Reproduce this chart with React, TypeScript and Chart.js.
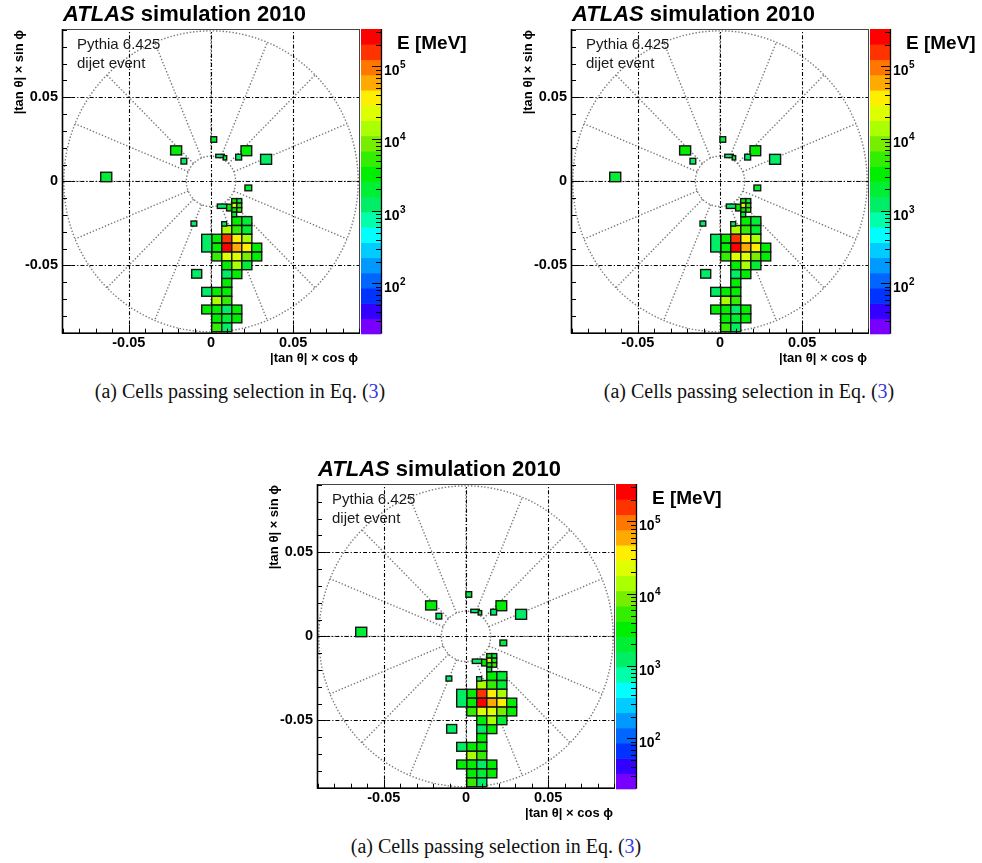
import React, { useEffect, useRef } from 'react';
import { Chart, registerables } from 'chart.js';

Chart.register(...registerables);

// ---------------- axis ranges / ticks ----------------
const X_RANGE = [-0.0906, 0.0906];
const Y_RANGE = [-0.0906, 0.0906];
const Z_RANGE = [20.2, 330000];
const N_LEVELS = 20;
const AXIS_TICKS = [-0.05, 0, 0.05];
const AXIS_MINOR_TICKS = [-0.09, -0.08, -0.07, -0.06, -0.05, -0.04, -0.03, -0.02, -0.01, 0, 0.01, 0.02, 0.03, 0.04, 0.05, 0.06, 0.07, 0.08, 0.09];
const Z_TICKS = [100, 1000, 10000, 100000];
const Z_TICK_EXPONENTS = ['2', '3', '4', '5'];
const PALETTE = [
  '#7700ff', '#3300ff', '#0033ff', '#0066ff', '#0099ff', '#00ccff', '#00ffff', '#00ffaa', '#00ee66', '#00ee33',
  '#00ee00', '#33ee00', '#77ee00', '#aaff00', '#ddff00', '#ffee00', '#ffaa00', '#ff7700', '#ff3300', '#ff0000',
];

// detector outline (dotted)
const OUTER_R = 0.0895;
const INNER_R = 0.015;
const SPOKE_ANGLES = [0, 22.5, 45, 67.5, 90, 112.5, 135, 157.5, 180, 202.5, 225, 247.5, 270, 292.5, 315, 337.5];

// ---------------- cell data ----------------
// regular calorimeter towers (grid)
const GRID_COL_CENTERS = [-0.0026, 0.0035, 0.0096, 0.0157, 0.0218, 0.0278];
const GRID_ROW_CENTERS = [-0.0236, -0.0289, -0.0341, -0.0394, -0.0447, -0.0499, -0.0552, -0.0604, -0.0657, -0.0710, -0.0762, -0.0815, -0.0868];
const GRID_W = 0.0061;
const GRID_H = 0.00526;
const TOWER_COL = [3, 4, 2, 3, 4, 1, 2, 3, 4, 1, 2, 3, 4, 5, 1, 2, 3, 4, 5, 2, 3, 4, 2, 3, 2, 0, 1, 2, 1, 2, 0, 1, 2, 3, 1, 2, 3, 1, 2];
const TOWER_ROW = [0, 0, 1, 1, 1, 2, 2, 2, 2, 3, 3, 3, 3, 3, 4, 4, 4, 4, 4, 5, 5, 5, 6, 6, 7, 8, 8, 8, 9, 9, 10, 10, 10, 10, 11, 11, 11, 12, 12];
const TOWER_E = [
  3500, 2200,
  14000, 5000, 2000,
  3300, 160000, 37000, 14000,
  3300, 260000, 60000, 37000, 3000,
  5000, 23000, 20000, 8700, 3300,
  3300, 12000, 2000,
  1200, 3000,
  3300,
  1200, 3500, 3000,
  14000, 5000,
  3000, 3300, 1300, 3000,
  3000, 2200, 3500,
  5000, 1400,
];

// individual cells (centre x, centre y, width, height, energy in MeV)
const CELL_X = [-0.0026, -0.0212, -0.0165, -0.0637, 0.0017, 0.0055, 0.0085, 0.0215, 0.0168, 0.0335, 0.0227, -0.0104, -0.0087,
  0.0141, 0.0172, 0.0141, 0.0172, 0.0141, 0.0172, 0.0141, 0.0067, 0.0110, 0.0080];
const CELL_Y = [-0.03675, 0.0184, 0.0120, 0.0026, 0.0249, 0.0151, 0.0140, 0.0182, 0.0144, 0.0131, -0.0039, -0.0251, -0.0550,
  -0.0116, -0.0116, -0.0143, -0.0143, -0.0170, -0.0170, -0.0197, -0.0148, -0.0156, -0.0253];
const CELL_W = [0.0061, 0.0067, 0.0035, 0.0067, 0.0035, 0.0052, 0.0021, 0.0065, 0.0036, 0.0067, 0.0041, 0.0035, 0.0061,
  0.0030, 0.0030, 0.0030, 0.0030, 0.0030, 0.0030, 0.0030, 0.0057, 0.0030, 0.0030];
const CELL_H = [0.0105, 0.0054, 0.0034, 0.0056, 0.0033, 0.0020, 0.0026, 0.0059, 0.0034, 0.0059, 0.0034, 0.0030, 0.0051,
  0.0027, 0.0027, 0.0027, 0.0027, 0.0027, 0.0027, 0.0027, 0.0026, 0.0040, 0.0026];
const CELL_E = [1200, 3300, 1200, 2000, 2000, 1500, 2000, 3300, 1200, 1400, 2000, 1200, 1300,
  3300, 2000, 23000, 5000, 3300, 5400, 2000, 1200, 3300, 1200];

// ---------------- texts ----------------
const TITLE_ITALIC = 'ATLAS';
const TITLE_REST = ' simulation 2010';
const Z_TITLE = 'E [MeV]';
const INFO_LINES = ['Pythia 6.425', 'dijet event'];
const X_TITLE = '|tan \u03b8| \u00d7 cos \u03d5';
const Y_TITLE = '|tan \u03b8| \u00d7 sin \u03d5';
const CAPTION_BEFORE = '(a) Cells passing selection in Eq. (';
const CAPTION_REF = '3';
const CAPTION_AFTER = ')';

const FONT = '"Liberation Sans", Arial, Helvetica, sans-serif';

const CELLS = [
  ...TOWER_COL.map((c, i) => ({ x: GRID_COL_CENTERS[c], y: GRID_ROW_CENTERS[TOWER_ROW[i]], w: GRID_W, h: GRID_H, e: TOWER_E[i] })),
  ...CELL_X.map((x, i) => ({ x, y: CELL_Y[i], w: CELL_W[i], h: CELL_H[i], e: CELL_E[i] })),
];

function levelIndex(e: number) {
  const l0 = Math.log10(Z_RANGE[0]);
  const l1 = Math.log10(Z_RANGE[1]);
  const t = (Math.log10(e) - l0) / (l1 - l0);
  return Math.max(0, Math.min(N_LEVELS - 1, Math.floor(t * N_LEVELS)));
}

function line(ctx: CanvasRenderingContext2D, x1: number, y1: number, x2: number, y2: number) {
  ctx.beginPath();
  ctx.moveTo(x1, y1);
  ctx.lineTo(x2, y2);
  ctx.stroke();
}

const atlasPlugin = {
  id: 'atlasPanel',
  beforeDraw(chart: any) {
    const { ctx, width, height } = chart;
    ctx.save();
    ctx.fillStyle = '#ffffff';
    ctx.fillRect(0, 0, width, height);
    ctx.restore();
  },
  beforeDatasetsDraw(chart: any) {
    const { ctx, chartArea: a, scales } = chart;
    const xs = scales.x;
    const ys = scales.y;
    ctx.save();
    ctx.beginPath();
    ctx.rect(a.left, a.top, a.right - a.left, a.bottom - a.top);
    ctx.clip();
    const cx = xs.getPixelForValue(0);
    const cy = ys.getPixelForValue(0);
    // dotted detector outline
    ctx.strokeStyle = '#7a7a7a';
    ctx.lineWidth = 1.4;
    ctx.setLineDash([1.4, 1.9]);
    for (const r of [OUTER_R, INNER_R]) {
      ctx.beginPath();
      ctx.ellipse(cx, cy, xs.getPixelForValue(r) - cx, cy - ys.getPixelForValue(r), 0, 0, Math.PI * 2);
      ctx.stroke();
    }
    for (const deg of SPOKE_ANGLES) {
      const t = (deg * Math.PI) / 180;
      line(ctx,
        xs.getPixelForValue(INNER_R * Math.cos(t)), ys.getPixelForValue(INNER_R * Math.sin(t)),
        xs.getPixelForValue(OUTER_R * Math.cos(t)), ys.getPixelForValue(OUTER_R * Math.sin(t)));
    }
    // dash-dot grid at major ticks
    ctx.strokeStyle = '#000000';
    ctx.lineWidth = 1.1;
    ctx.setLineDash([4, 2, 1.2, 2]);
    for (const v of AXIS_TICKS) {
      const px = Math.round(xs.getPixelForValue(v)) + 0.5;
      line(ctx, px, a.bottom, px, a.top);
      const py = Math.round(ys.getPixelForValue(v)) + 0.5;
      line(ctx, a.left, py, a.right, py);
    }
    ctx.restore();
  },
  afterDatasetsDraw(chart: any) {
    const { ctx, chartArea: a, scales } = chart;
    const xs = scales.x;
    const ys = scales.y;
    ctx.save();
    ctx.beginPath();
    ctx.rect(a.left, a.top, a.right - a.left, a.bottom - a.top);
    ctx.clip();
    const cells = chart.data.datasets[0].data;
    ctx.lineWidth = 1.4;
    ctx.strokeStyle = '#151515';
    for (const c of cells) {
      const x1 = xs.getPixelForValue(c.x - c.w / 2);
      const x2 = xs.getPixelForValue(c.x + c.w / 2);
      const y1 = ys.getPixelForValue(c.y + c.h / 2);
      const y2 = ys.getPixelForValue(c.y - c.h / 2);
      ctx.fillStyle = PALETTE[levelIndex(c.e)];
      ctx.fillRect(x1, y1, x2 - x1, y2 - y1);
      ctx.strokeRect(x1, y1, x2 - x1, y2 - y1);
    }
    ctx.restore();
  },
  afterDraw(chart: any) {
    const { ctx, chartArea: a, scales } = chart;
    const xs = scales.x;
    const ys = scales.y;
    const zs = scales.zAxis;
    ctx.save();
    // frame
    ctx.setLineDash([]);
    ctx.strokeStyle = '#444444';
    ctx.lineWidth = 1;
    ctx.strokeRect(a.left + 0.5, a.top + 0.5, a.right - a.left - 1, a.bottom - a.top - 1);
    ctx.strokeStyle = '#000000';
    ctx.lineWidth = 1.6;
    line(ctx, a.left + 0.5, a.top, a.left + 0.5, a.bottom);
    line(ctx, a.left, a.bottom - 0.5, a.right, a.bottom - 0.5);
    // inward ticks
    ctx.lineWidth = 1;
    for (const v of AXIS_MINOR_TICKS) {
      const major = AXIS_TICKS.some((m) => Math.abs(m - v) < 1e-9);
      const len = major ? 9 : 5;
      const px = Math.round(xs.getPixelForValue(v)) + 0.5;
      line(ctx, px, a.bottom, px, a.bottom - len);
      const py = Math.round(ys.getPixelForValue(v)) + 0.5;
      line(ctx, a.left, py, a.left + len, py);
    }
    // colour bar
    const cbL = a.right + 1;
    const cbR = a.right + 21;
    const l0 = Math.log10(Z_RANGE[0]);
    const l1 = Math.log10(Z_RANGE[1]);
    for (let i = 0; i < N_LEVELS; i++) {
      const v0 = Math.pow(10, l0 + ((l1 - l0) * i) / N_LEVELS);
      const v1 = Math.pow(10, l0 + ((l1 - l0) * (i + 1)) / N_LEVELS);
      const y0 = zs.getPixelForValue(v0);
      const y1 = zs.getPixelForValue(v1);
      ctx.fillStyle = PALETTE[i];
      ctx.fillRect(cbL, y1, cbR - cbL, y0 - y1 + 0.6);
    }
    ctx.strokeStyle = '#000000';
    ctx.lineWidth = 1.3;
    line(ctx, cbR + 0.5, a.top, cbR + 0.5, a.bottom);
    ctx.lineWidth = 1;
    for (let d = 10; d <= 1e6; d *= 10) {
      for (let m = 1; m <= 9; m++) {
        const v = d * m;
        if (v < Z_RANGE[0] || v > Z_RANGE[1]) continue;
        const py = Math.round(zs.getPixelForValue(v)) + 0.5;
        line(ctx, cbR, py, cbR - (m === 1 ? 9 : 5), py);
      }
    }
    ctx.fillStyle = '#000000';
    ctx.textAlign = 'left';
    ctx.textBaseline = 'alphabetic';
    Z_TICKS.forEach((v, i) => {
      const py = zs.getPixelForValue(v);
      ctx.font = `bold 14px ${FONT}`;
      ctx.fillText('10', cbR + 3, py + 8.5);
      const w = ctx.measureText('10').width;
      ctx.font = `bold 10px ${FONT}`;
      ctx.fillText(Z_TICK_EXPONENTS[i], cbR + 3 + w + 0.5, py + 1.5);
    });
    // z title
    ctx.font = `bold 19px ${FONT}`;
    ctx.fillText(Z_TITLE, a.right + 37, a.top + 19.5);
    // main title
    ctx.font = `italic bold 22px ${FONT}`;
    ctx.fillText(TITLE_ITALIC, a.left + 1, a.top - 8.5);
    const tw = ctx.measureText(TITLE_ITALIC).width;
    ctx.font = `bold 22px ${FONT}`;
    ctx.fillText(TITLE_REST, a.left + 1 + tw, a.top - 8.5);
    // info text
    ctx.fillStyle = '#1a1a1a';
    ctx.font = `15px ${FONT}`;
    ctx.fillText(INFO_LINES[0], a.left + 15, a.top + 19.5);
    ctx.fillText(INFO_LINES[1], a.left + 15, a.top + 38.5);
    // axis titles
    ctx.fillStyle = '#000000';
    ctx.font = `bold 13px ${FONT}`;
    ctx.textAlign = 'right';
    ctx.fillText(X_TITLE, a.right - 2, a.bottom + 28);
    ctx.save();
    ctx.translate(a.left - 39, a.top + 1);
    ctx.rotate(-Math.PI / 2);
    ctx.fillText(Y_TITLE, 0, 0);
    ctx.restore();
    ctx.restore();
  },
};

const CANVAS_W = 470;
const CANVAS_H = 372;

function formatTick(v: number) {
  if (Math.abs(v) < 1e-9) return '0';
  return v.toFixed(2);
}

function Panel({ left, top }: { left: number; top: number }) {
  const ref = useRef<HTMLCanvasElement | null>(null);
  useEffect(() => {
    if (!ref.current) return;
    const tickFont = { family: FONT, size: 14.5, weight: 'bold' as const };
    const chart = new Chart(ref.current, {
      type: 'scatter',
      data: {
        datasets: [
          {
            data: CELLS as any,
            pointRadius: 0,
            pointHoverRadius: 0,
            showLine: false,
          },
        ],
      },
      options: {
        animation: false,
        responsive: false,
        maintainAspectRatio: false,
        devicePixelRatio: 1,
        events: [],
        layout: { padding: { top: 29, left: 0, right: 0, bottom: 0 } },
        plugins: {
          legend: { display: false },
          tooltip: { enabled: false },
          title: { display: false },
        },
        scales: {
          x: {
            type: 'linear',
            position: 'bottom',
            min: X_RANGE[0],
            max: X_RANGE[1],
            grid: { display: false, drawTicks: false },
            border: { display: false },
            ticks: {
              font: tickFont,
              color: '#000',
              padding: 1,
              maxRotation: 0,
              autoSkip: false,
              callback: (v: any) => formatTick(Number(v)),
            },
            afterBuildTicks: (s: any) => {
              s.ticks = AXIS_TICKS.map((v) => ({ value: v }));
            },
            afterFit: (s: any) => {
              s.height = CANVAS_H - 333.7;
            },
          },
          y: {
            type: 'linear',
            position: 'left',
            min: Y_RANGE[0],
            max: Y_RANGE[1],
            grid: { display: false, drawTicks: false },
            border: { display: false },
            ticks: {
              font: tickFont,
              color: '#000',
              padding: 4,
              autoSkip: false,
              callback: (v: any) => formatTick(Number(v)),
            },
            afterBuildTicks: (s: any) => {
              s.ticks = AXIS_TICKS.map((v) => ({ value: v }));
            },
            afterFit: (s: any) => {
              s.width = 62;
            },
          },
          zAxis: {
            axis: 'y',
            type: 'logarithmic',
            position: 'right',
            min: Z_RANGE[0],
            max: Z_RANGE[1],
            grid: { display: false, drawTicks: false },
            border: { display: false },
            ticks: { display: false },
            afterBuildTicks: (s: any) => {
              s.ticks = Z_TICKS.map((v) => ({ value: v }));
            },
            afterFit: (s: any) => {
              s.width = CANVAS_W - 360;
            },
          },
        } as any,
      },
      plugins: [atlasPlugin],
    } as any);
    return () => chart.destroy();
  }, []);
  return (
    <canvas
      ref={ref}
      width={CANVAS_W}
      height={CANVAS_H}
      style={{ position: 'absolute', left, top, width: CANVAS_W, height: CANVAS_H }}
    />
  );
}

function Caption({ cx, cy }: { cx: number; cy: number }) {
  return (
    <div
      style={{
        position: 'absolute',
        left: cx - 250,
        top: cy - 12,
        width: 500,
        textAlign: 'center',
        font: '20px "Liberation Serif", "Times New Roman", serif',
        lineHeight: '24px',
        color: '#111',
        whiteSpace: 'nowrap',
      }}
    >
      {CAPTION_BEFORE}
      <span style={{ color: '#3838e8' }}>{CAPTION_REF}</span>
      {CAPTION_AFTER}
    </div>
  );
}

export default function App() {
  return (
    <div style={{ position: 'absolute', left: 0, top: 0, width: 982, height: 863, background: '#ffffff', overflow: 'hidden' }}>
      <Panel left={0} top={0} />
      <Panel left={509} top={0} />
      <Panel left={255} top={455} />
      <Caption cx={240} cy={391} />
      <Caption cx={749} cy={391} />
      <Caption cx={496} cy={846} />
    </div>
  );
}
